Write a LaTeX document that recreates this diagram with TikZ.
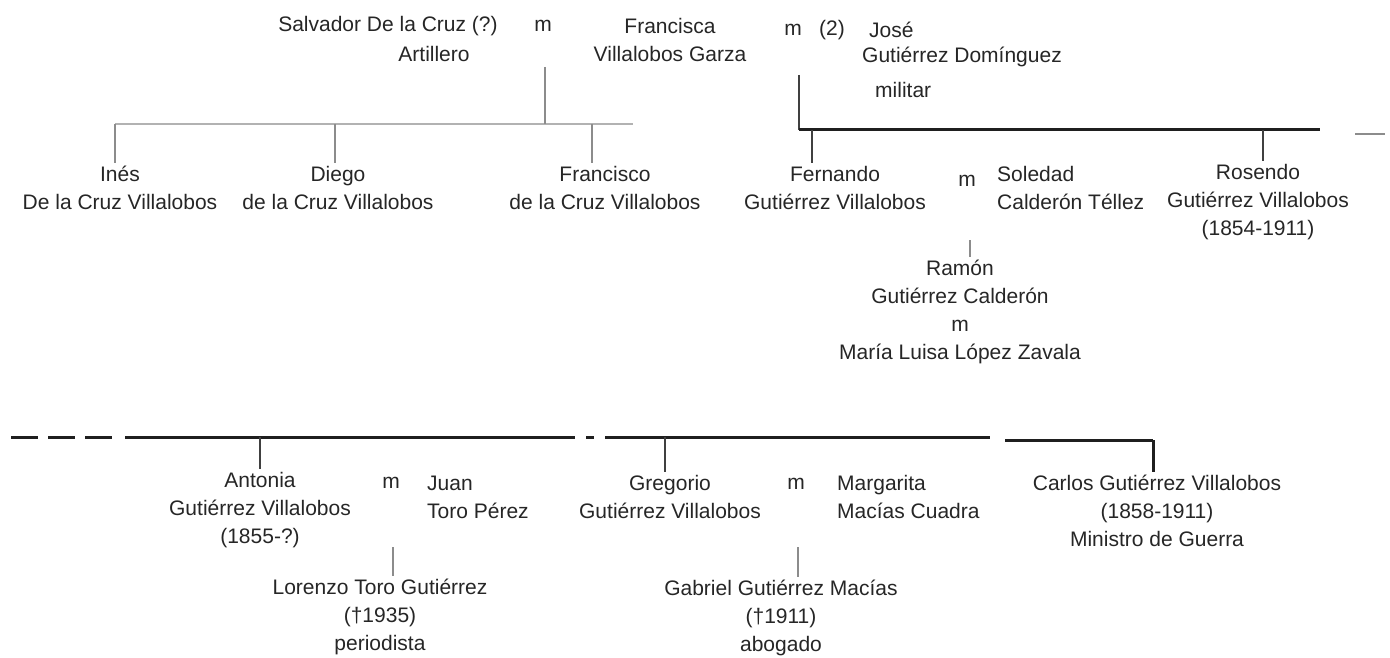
\documentclass[tikz,border=0pt]{standalone}
\usepackage{fontspec}
\setmainfont{Liberation Sans}
\newcommand\treefont{\fontsize{21}{28}\selectfont}
\begin{document}
\begin{tikzpicture}[x=1pt,y=-1pt,
  txt/.style={font=\treefont, align=center, inner sep=0pt, text=black!85},
  ltxt/.style={font=\treefont, align=left, inner sep=0pt, text=black!85, anchor=west},
  gline/.style={line width=2pt, black!30},
  gstub/.style={line width=1.6pt, black!45, shorten >=3pt},
  bline/.style={line width=3pt, black!88},
  bstub/.style={line width=2pt, black!75, shorten >=3pt},
]
\useasboundingbox[fill=white] (0,0) rectangle (1390,658);

% ---------- top row ----------
\node[txt] (salv) at (388,26) {Salvador De la Cruz (?)};
\node[txt] (art) at (434,54) {Artillero};
\node[txt] (m1) at (543,26) {m};
\node[txt] (fran) at (670,40) {Francisca\\Villalobos Garza};
\node[txt] (m2) at (793,30) {m};
\node[txt] (two) at (832,30) {(2)};
\node[ltxt] (jose) at (869,30) {José};
\node[ltxt] (joseb) at (862,57) {Gutiérrez Domínguez};
\node[ltxt] (josec) at (875,90) {militar};

% ---------- second row ----------
\node[txt] (ines) at (120,188) {Inés\\De la Cruz Villalobos};
\node[txt] (diego) at (338,188) {Diego\\de la Cruz Villalobos};
\node[txt] (franc) at (605,188) {Francisco\\de la Cruz Villalobos};
\node[txt] (fern) at (835,188) {Fernando\\Gutiérrez Villalobos};
\node[txt] (m3) at (967,181) {m};
\node[ltxt] (sol) at (997,188) {Soledad\\Calderón Téllez};
\node[txt] (ros) at (1258,202) {Rosendo\\Gutiérrez Villalobos\\(1854-1911)};

% ---------- third row ----------
\node[txt] (ramon) at (960,312) {Ramón\\Gutiérrez Calderón\\m\\María Luisa López Zavala};

% ---------- bottom rows ----------
\node[txt] (anto) at (260,510) {Antonia\\Gutiérrez Villalobos\\(1855-?)};
\node[txt] (m4) at (391,483) {m};
\node[ltxt] (juan) at (427,497) {Juan\\Toro Pérez};
\node[txt] (greg) at (670,497) {Gregorio\\Gutiérrez Villalobos};
\node[txt] (m5) at (796,484) {m};
\node[ltxt] (marg) at (837,497) {Margarita\\Macías Cuadra};
\node[txt] (carl) at (1157,511) {Carlos Gutiérrez Villalobos\\(1858-1911)\\Ministro de Guerra};
\node[txt] (lor) at (380,617) {Lorenzo Toro Gutiérrez\\(†1935)\\periodista};
\node[txt] (gab) at (781,618) {Gabriel Gutiérrez Macías\\(†1911)\\abogado};

% ---------- De la Cruz connectors ----------
\coordinate (dcTop) at (545,67);
\coordinate (dcJ) at (545,124);
\coordinate (dcL) at (115,124);
\coordinate (dcR) at (633,124);
\coordinate (dcD) at (335,124);
\coordinate (dcF) at (592,124);
\draw[gline] (dcL) -- (dcR);
\draw[gstub, shorten >=0pt] (dcTop) -- (dcJ);
\draw[gstub] (dcL) -- (dcL |- ines.north);
\draw[gstub] (dcD) -- (dcD |- diego.north);
\draw[gstub] (dcF) -- (dcF |- franc.north);

% ---------- Gutierrez connectors ----------
\coordinate (gTop) at (799,75);
\coordinate (gJ) at (799,130);
\coordinate (gR) at (1320,130);
\coordinate (gF) at (812,130);
\coordinate (gRo) at (1263,130);
\coordinate (contA) at (1355,134);
\coordinate (contB) at (1385,134);
\draw[bstub, shorten >=0pt] (gTop) -- (gJ);
\draw[bline] (gJ) -- (gR);
\draw[line width=2pt, black!45] (contA) -- (contB);
\draw[bstub] (gF) -- (gF |- fern.north);
\draw[bstub] (gRo) -- (gRo |- ros.north);
\coordinate (fsB) at (970,240);
\draw[gstub] (fsB) -- (fsB |- ramon.north);

% ---------- bottom line ----------
\coordinate (bL) at (11,437);
\coordinate (bD) at (115,437);
\coordinate (bS) at (125,437);
\coordinate (bE) at (567,437);
\coordinate (b2S) at (610,437);
\coordinate (b2E) at (990,437);
\draw[bline, dash pattern=on 27pt off 10pt] (bL) -- (bD);
\draw[bline] (bS) -- (bE);
\draw[bline, dash pattern=on 8pt off 11pt] (bE) -- (b2S);
\draw[bline] (b2S) -- (b2E);
\coordinate (bA) at (260,437);
\coordinate (bG) at (665,437);
\draw[bstub] (bA) -- (bA |- anto.north);
\draw[bstub] (bG) -- (bG |- greg.north);
\coordinate (cL) at (1005,440);
\coordinate (cR) at (1153,440);
\draw[bline] (cL) -- (cR);
\draw[bline, shorten >=3pt] (cR) -- (cR |- carl.north);

\coordinate (ajB) at (393,547);
\coordinate (gmB) at (798,547);
\draw[gstub] (ajB) -- (ajB |- lor.north);
\draw[gstub] (gmB) -- (gmB |- gab.north);
\end{tikzpicture}
\end{document}
